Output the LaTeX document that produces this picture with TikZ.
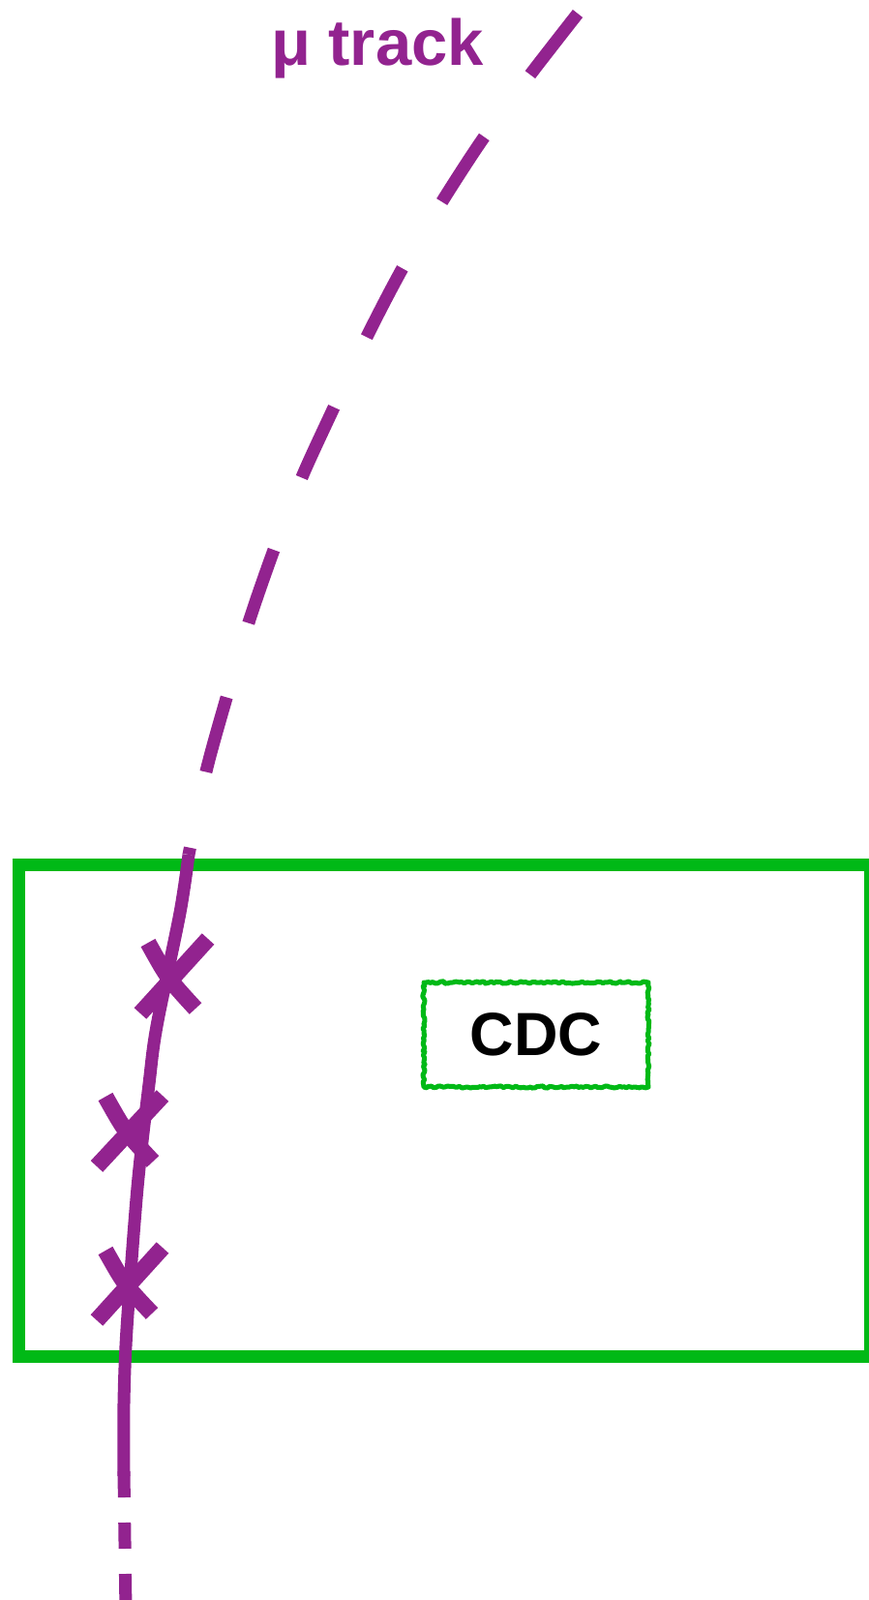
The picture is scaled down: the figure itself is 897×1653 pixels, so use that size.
\documentclass[tikz,border=0pt]{standalone}
\usepackage{fontspec}
\setmainfont{Liberation Sans}
\usetikzlibrary{decorations.pathmorphing}
\definecolor{mupurple}{RGB}{146,35,143}
\definecolor{cdcgreen}{RGB}{0,185,22}
\begin{document}
\begin{tikzpicture}[x=1pt,y=-1pt,
  track/.style={mupurple,line width=13pt},
  hit/.style={mupurple,line width=17pt},
  detbox/.style={cdcgreen,line width=13pt},
  cdclabel/.style={draw=cdcgreen,line width=5pt,line join=round,decorate,
    decoration={random steps,segment length=2.5pt,amplitude=1.1pt},
    minimum width=232pt,minimum height=108pt,inner sep=0pt,
    font=\bfseries\fontsize{63}{70}\selectfont},
  tracklabel/.style={text=mupurple,font=\bfseries\fontsize{67}{72}\selectfont,anchor=base,inner sep=0pt}]
\useasboundingbox (0,0) rectangle (897,1653);
\fill[white] (0,0) rectangle (897,1653);
% detector box
\draw[detbox] (19.5,893.5) rectangle (899.5,1401.5);
\node[cdclabel] (cdc) at (554,1069) {CDC};
% label
\node[tracklabel] (mu) at (390,68) {μ track};
% dashed extrapolated track
\draw[track,dash pattern=on 80pt off 80pt] plot[smooth,tension=0.5] coordinates
  {(597,14) (548,77) (500,142) (457,208) (416,277) (379,348) (345,421) (312,493)
   (283,568) (257,643) (234,721) (213,797) (195,883)};
% solid fitted track
\draw[track] plot[smooth,tension=0.5] coordinates
  {(195,883) (186,943) (162,1060) (154,1120) (142,1227) (131,1373) (128,1450) (128,1525)};
% lower dashes
\draw[track,dash pattern=on 27pt off 26pt] (128,1520) -- (130,1665);
% hits
\draw[hit] (153,974) .. controls (173.5,1011) .. (202,1042);
\draw[hit] (215,970) -- (145,1047);
\draw[hit] (109,1133) .. controls (129.5,1169.5) .. (158,1200);
\draw[hit] (168,1132) -- (100,1205);
\draw[hit] (109,1292) .. controls (129,1327.5) .. (157,1357);
\draw[hit] (168,1289) -- (100,1364);
\end{tikzpicture}
\end{document}
